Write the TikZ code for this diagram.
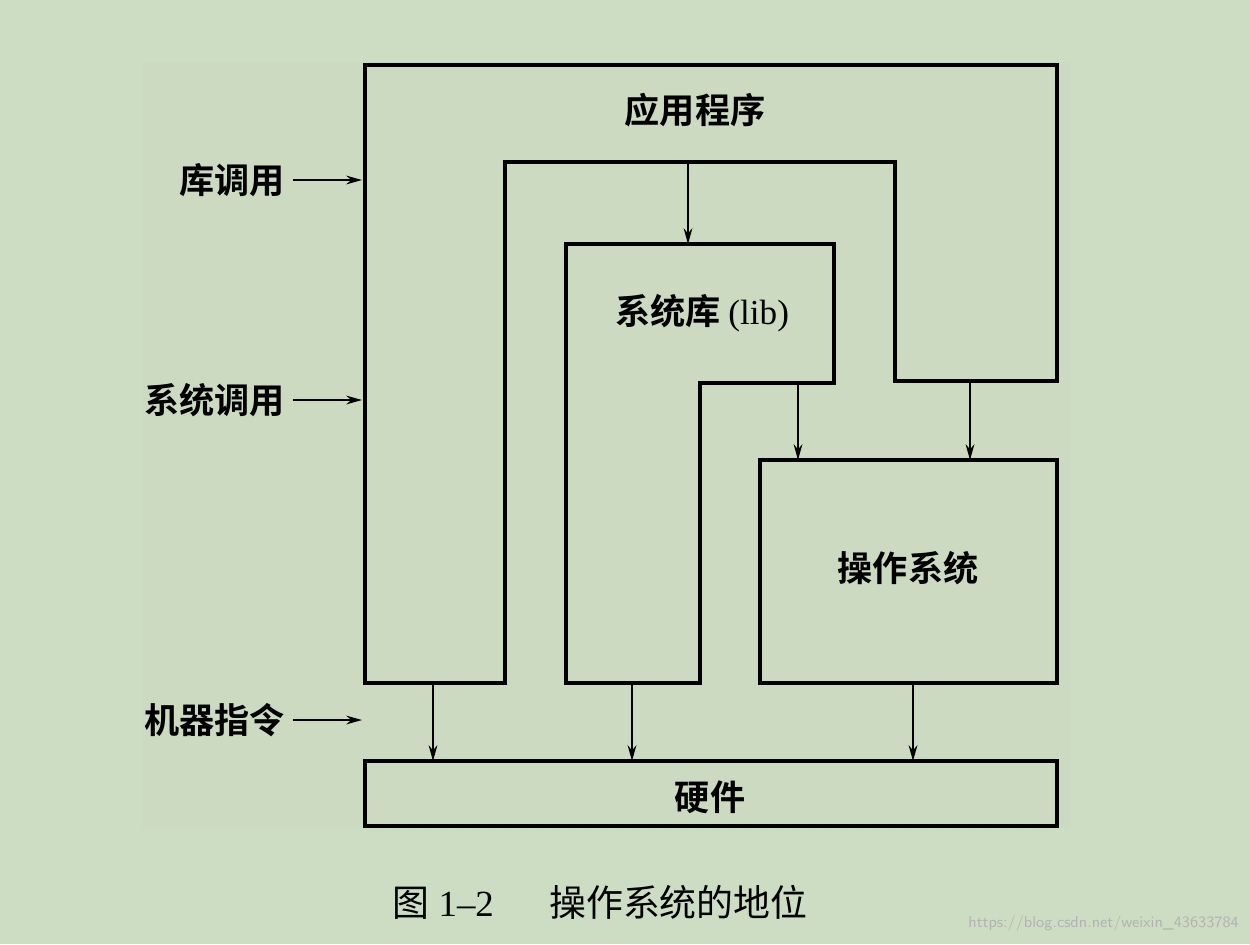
\documentclass[tikz,border=0pt]{standalone}
\usetikzlibrary{arrows.meta}
\usepackage{fontspec}
\setmainfont{Liberation Serif}
\newfontfamily\cjkb{Noto Sans CJK SC}[BoldFont={* Bold}]
\newfontfamily\cjks{Noto Sans CJK SC}
\definecolor{bgout}{HTML}{CDDDC4}
\definecolor{bgin}{HTML}{CCDAC1}
\begin{document}
\begin{tikzpicture}[x=0.02cm,y=-0.02cm,
  ln/.style={line width=2pt},
  arr/.style={-{Stealth[length=9pt,width=5pt]},line width=0.9pt},
  lbl/.style={font=\fontsize{20}{20}\selectfont\cjkb\bfseries},
  lbll/.style={lbl,anchor=east,inner sep=0pt}]
\fill[bgout] (0,0) rectangle (1250,944);
\useasboundingbox (0,0) rectangle (1250,944);
\fill[bgin] (142,62) rectangle (1070,828);
\draw[ln] (365,65) -- (1057,65) -- (1057,381) -- (895,381) -- (895,162) -- (505,162) -- (505,683) -- (365,683) -- cycle;
\draw[ln] (566,244) -- (834,244) -- (834,383) -- (700,383) -- (700,683) -- (566,683) -- cycle;
\draw[ln] (760,460) rectangle (1057,683);
\draw[ln] (365,761) rectangle (1057,826);
\node[lbl] (app) at (695,110) {应用程序};
\node[lbl] (lib) at (702,313) {系统库 \textmd{\normalfont\fontsize{20}{20}\selectfont (lib)}};
\node[lbl] (os) at (908,568) {操作系统};
\node[lbl] (hw) at (710,797) {硬件};
\coordinate (a1) at (688,162); \coordinate (a2) at (688,244);
\coordinate (b1) at (798,383); \coordinate (b2) at (798,460);
\coordinate (c1) at (970,381); \coordinate (c2) at (970,460);
\coordinate (d1) at (433,683); \coordinate (d2) at (433,761);
\coordinate (e1) at (632,683); \coordinate (e2) at (632,761);
\coordinate (f1) at (913,683); \coordinate (f2) at (913,761);
\foreach \s in {a,b,c,d,e,f} \draw[arr] (\s1) -- (\s2);
\node[lbll] (l1) at (285,180) {库调用};
\node[lbll] (l2) at (285,400) {系统调用};
\node[lbll] (l3) at (285,720) {机器指令};
\coordinate (t1) at (362,180); \coordinate (t2) at (362,400); \coordinate (t3) at (362,720);
\draw[arr] (l1.east)++(8,0) -- (t1);
\draw[arr] (l2.east)++(8,0) -- (t2);
\draw[arr] (l3.east)++(8,0) -- (t3);
\node[font=\fontsize{21}{21}\selectfont] (cap) at (600,902) {{\cjks 图} 1–2\hspace{1.5em}{\cjks 操作系统的地位}};
\node[font=\fontsize{9}{9}\selectfont\sffamily,text=white!40!gray,anchor=east] (wm) at (1245,924) {https://blog.csdn.net/weixin\_43633784};
\end{tikzpicture}
\end{document}
